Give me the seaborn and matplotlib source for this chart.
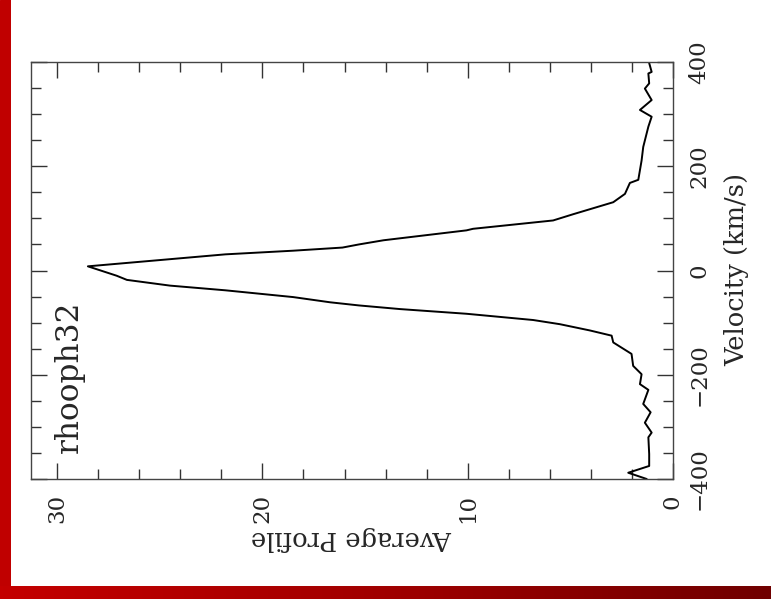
import numpy as np
import pandas as pd
import matplotlib
matplotlib.use("Agg")
import matplotlib.pyplot as plt
from matplotlib.ticker import MultipleLocator
from matplotlib.colors import LinearSegmentedColormap
import seaborn as sns

# ---- data ----
velocity = [-400, -388, -375, -352, -320, -311, -292, -272, -256, -229, -218,
            -199, -183, -160, -138, -125, -115, -103, -95, -83, -74, -67, -61,
            -51, -38, -29, -18, -10, 8, 20, 31, 38, 44, 50, 58, 77, 80, 96,
            108, 131, 147, 168, 174, 211, 237, 276, 295, 308, 327, 349, 359,
            378, 381, 398]
profile = [1.28, 2.18, 1.16, 1.16, 1.20, 1.04, 1.37, 1.09, 1.45, 1.20, 1.61,
           1.53, 1.94, 2.02, 2.91, 2.99, 4.05, 5.51, 6.81, 10.06, 13.3, 15.3,
           16.7, 18.5, 21.8, 24.5, 26.6, 27.1, 28.5, 25.0, 21.8, 18.5, 16.1,
           15.3, 14.1, 10.06, 9.74, 5.84, 4.86, 2.91, 2.34, 2.10, 1.69, 1.53,
           1.45, 1.20, 1.04, 1.61, 1.04, 1.37, 1.16, 1.20, 1.04, 1.16]
profile_ticks = [0, 10, 20, 30]
velocity_ticks = [-400, -200, 0, 200, 400]
source_name = "rhooph32"
x_label = "Velocity (km/s)"
y_label = "Average Profile"

df = pd.DataFrame({"Velocity": velocity, "Profile": profile})

sns.set_style("ticks")
plt.rcParams["font.family"] = ["DejaVu Serif"]

W, H = 771, 599
fig = plt.figure(figsize=(W / 100, H / 100), dpi=100)
fig.patch.set_facecolor("white")

# slide decoration: red bars
axl = fig.add_axes([0, 0, 11 / W, 1])
axl.set_axis_off()
axl.add_patch(plt.Rectangle((0, 0), 1, 1, color="#c00000", transform=axl.transAxes))
axb = fig.add_axes([0, 0, 1, 13 / H])
axb.set_axis_off()
grad = np.linspace(0, 1, 256)[None, :]
cm = LinearSegmentedColormap.from_list("r", ["#c40000", "#a00000", "#700000"])
axb.imshow(grad, aspect="auto", cmap=cm, extent=[0, 1, 0, 1])

left, right, top, bottom = 31, 673, 62, 479
ax = fig.add_axes([left / W, 1 - bottom / H, (right - left) / W, (bottom - top) / H])
sns.lineplot(data=df, x="Profile", y="Velocity", orient="y", estimator=None,
             color="black", linewidth=1.4, ax=ax)

ax.set_xlim(31.27, 0)
ax.set_ylim(-400, 400)
ax.set_xticks(profile_ticks)
ax.set_yticks(velocity_ticks)
ax.xaxis.set_minor_locator(MultipleLocator(2))
ax.yaxis.set_minor_locator(MultipleLocator(50))
ax.tick_params(which="both", direction="in", top=True, bottom=True, left=True,
               right=True, labelleft=False, labelright=True, labelbottom=True,
               color="#333333", width=1.0)
ax.tick_params(which="major", length=11.5, labelsize=16.5, pad=11)
ax.tick_params(which="minor", length=7)
for lab in ax.get_xticklabels():
    lab.set_rotation(90)
    lab.set_va("top")
    lab.set_ha("center")
for lab in ax.get_yticklabels():
    lab.set_rotation(90)
    lab.set_va("center")
    lab.set_ha("left")
for s in ax.spines.values():
    s.set_color("#444444")
    s.set_linewidth(1.0)

ax.set_xlabel("")
ax.set_ylabel("")
fig.text(352 / W, 1 - 539 / H, y_label, rotation=180, ha="center", va="center",
         fontsize=18.5)
fig.text(737 / W, 1 - 270 / H, x_label, rotation=90, ha="center", va="center",
         fontsize=18.5)
ax.text(30.15, -350, source_name, rotation=90, ha="left", va="top",
        fontsize=22.5, rotation_mode="anchor")

fig.savefig("out.png", dpi=100)
